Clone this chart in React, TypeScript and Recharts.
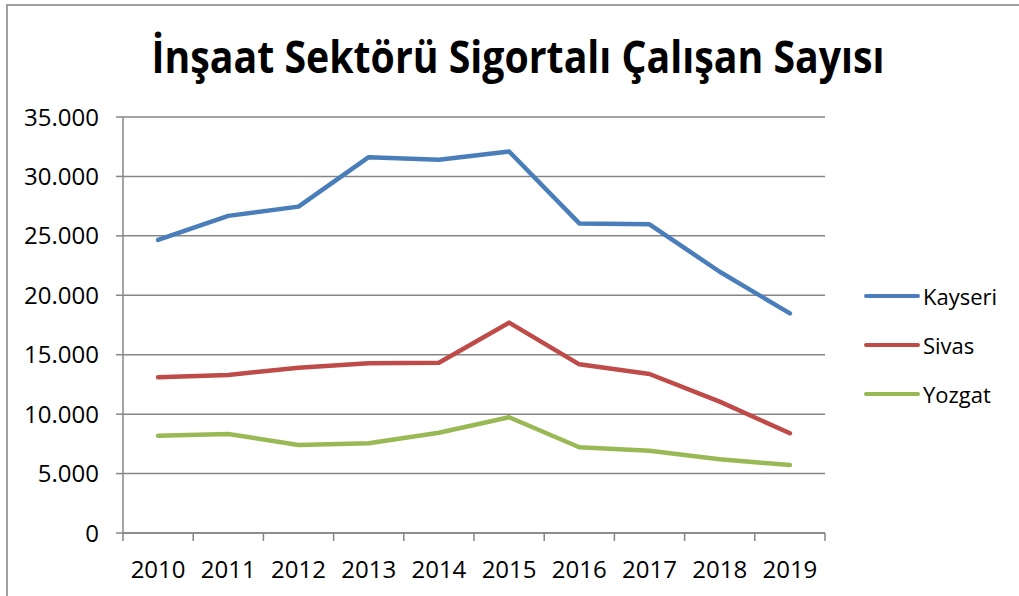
import { LineChart, Line, XAxis, YAxis, CartesianGrid } from "recharts"

const years = ["2010", "2011", "2012", "2013", "2014", "2015", "2016", "2017", "2018", "2019"]
const kayseri = [24660, 26680, 27460, 31620, 31400, 32100, 26050, 25970, 21980, 18480]
const sivas = [13110, 13300, 13910, 14280, 14330, 17700, 14190, 13380, 11050, 8390]
const yozgat = [8190, 8330, 7410, 7550, 8440, 9740, 7210, 6920, 6200, 5720]
const yTicks = [0, 5000, 10000, 15000, 20000, 25000, 30000, 35000]
const boundaryTicks = [0, 1, 2, 3, 4, 5, 6, 7, 8, 9, 10]

const series = [
  { key: "Kayseri", color: "#4A7EBB" },
  { key: "Sivas", color: "#BE4B48" },
  { key: "Yozgat", color: "#98B954" },
]

// pos = middle of each category slot, used by the boundary-tick axis
const data = years.map((y, i) => ({ year: y, pos: i + 0.5, Kayseri: kayseri[i], Sivas: sivas[i], Yozgat: yozgat[i] }))

const fmt = (v: number) => String(v).replace(/\B(?=(\d{3})+(?!\d))/g, ".")
const font = "'Open Sans', sans-serif"
const grid = "#868686"

const YearTick = ({ x, y, payload }: any) => (
  <text x={x} y={y} dy={44} textAnchor="middle" fontFamily={font} fontSize={24} fill="#000">
    {payload.value}
  </text>
)

const App = () => {
  return (
    <div style={{ position: "absolute", left: 0, top: 0, width: 1019, height: 596, background: "#fff", overflow: "hidden" }}>
      <div style={{ position: "absolute", left: 6, top: 4, width: 1100, height: 700, borderLeft: "2px solid #a0a0a0", borderTop: "2px solid #a0a0a0" }} />
      <svg width={1019} height={100} style={{ position: "absolute", left: 0, top: 0 }}>
        <text x={518} y={73} textAnchor="middle" fontFamily={font} fontWeight="bold" fontSize={44} fill="#000"
          textLength={733} lengthAdjust="spacingAndGlyphs">
          İnşaat Sektörü Sigortalı Çalışan Sayısı
        </text>
      </svg>
      <div style={{ position: "absolute", left: 0, top: 0 }}>
        <LineChart width={1019} height={596} data={data} margin={{ top: 117, right: 194, bottom: 0, left: 0 }}>
          <CartesianGrid horizontal vertical={false} stroke={grid} strokeWidth={1.5} />
          <XAxis xAxisId="bnd" dataKey="pos" type="number" domain={[0, 10]} ticks={boundaryTicks} allowDataOverflow height={1}
            axisLine={{ stroke: grid, strokeWidth: 1.5 }} tickLine={{ stroke: grid, strokeWidth: 1.5 }} tickSize={8}
            tickFormatter={() => ""} interval={0} />
          <XAxis xAxisId="cat" dataKey="year" scale="band" height={62} tick={<YearTick />} tickLine={false}
            tickSize={0} tickMargin={0} axisLine={false} interval={0} />
          <YAxis width={123} domain={[0, 35000]} ticks={yTicks} tickFormatter={fmt} interval={0}
            tick={{ fontFamily: font, fontSize: 24, fill: "#000" }} tickSize={7} tickMargin={17}
            axisLine={{ stroke: grid, strokeWidth: 1.5 }} tickLine={{ stroke: grid, strokeWidth: 1.5 }} />
          {series.map((s) => (
            <Line key={s.key} xAxisId="cat" type="linear" dataKey={s.key} stroke={s.color} strokeWidth={4.5}
              dot={false} strokeLinecap="round" strokeLinejoin="round" isAnimationActive={false} />
          ))}
        </LineChart>
      </div>
      <div style={{ position: "absolute", left: 864, top: 271, fontFamily: font, fontSize: 22, color: "#000" }}>
        {series.map((s) => (
          <div key={s.key} style={{ display: "flex", alignItems: "center", height: 49 }}>
            <div style={{ width: 56, height: 4, borderRadius: 2, background: s.color, marginRight: 3 }} />
            <span>{s.key}</span>
          </div>
        ))}
      </div>
    </div>
  )
}

export default App
